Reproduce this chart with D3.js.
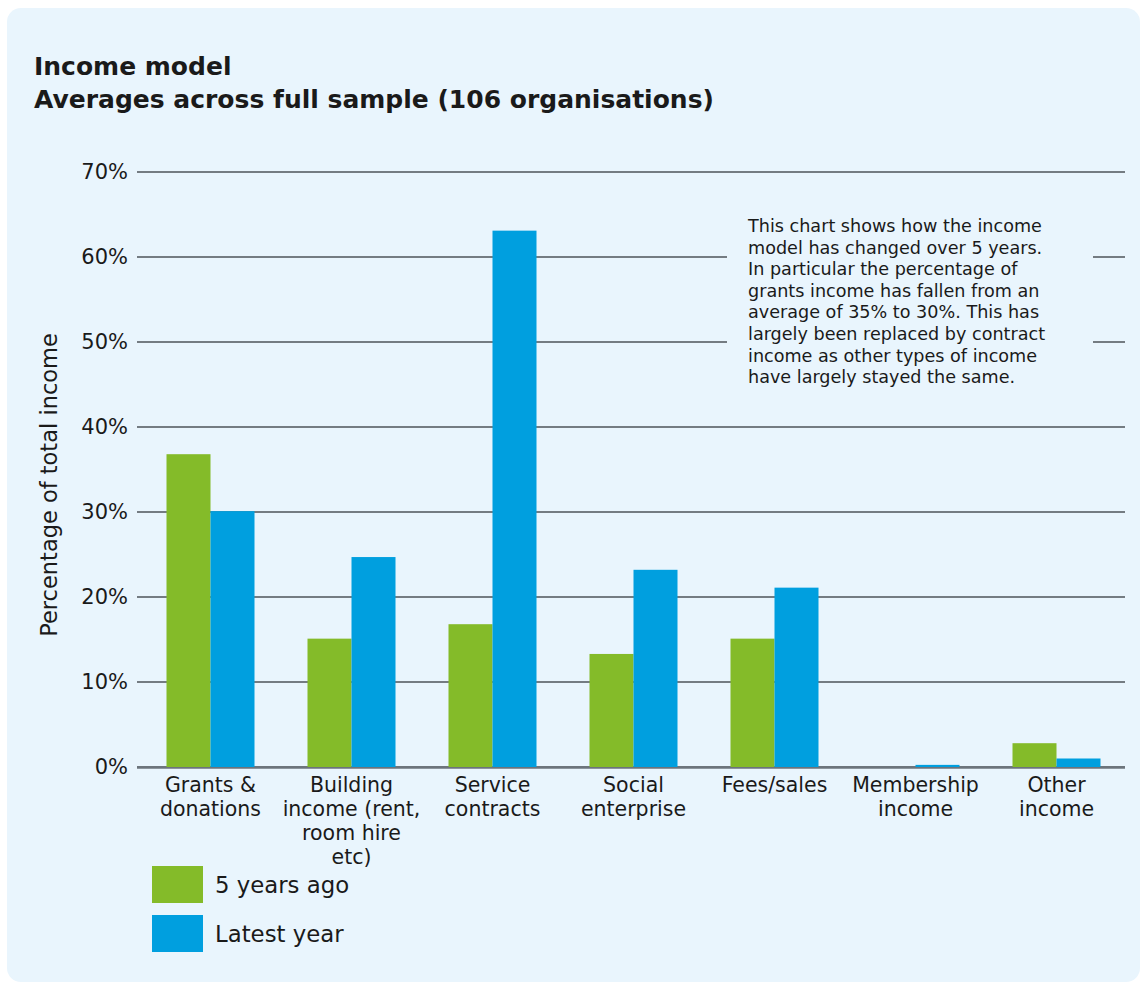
<!DOCTYPE html>
<html><head><meta charset="utf-8">
<script src="https://cdn.jsdelivr.net/npm/d3@7"></script>
<style>
html,body{margin:0;padding:0;background:#fff;}
svg{display:block;}
text{font-family:"DejaVu Sans",sans-serif;fill:#1a1a1a;}
</style></head>
<body>
<svg id="chart" width="1147" height="983"></svg>
<script>
const categories = [
  ["Grants &","donations"],
  ["Building","income (rent,","room hire","etc)"],
  ["Service","contracts"],
  ["Social","enterprise"],
  ["Fees/sales"],
  ["Membership","income"],
  ["Other","income"]
];
const seriesNames = ["5 years ago","Latest year"];
const fiveYearsAgo = [36.8, 15.1, 16.8, 13.3, 15.1, 0, 2.8];
const latestYear   = [30.1, 24.7, 63.1, 23.2, 21.1, 0.25, 1.0];
const yTicks = [0,10,20,30,40,50,60,70];
const colors = ["#84bb29","#009fdf"];
const titleLines = ["Income model","Averages across full sample (106 organisations)"];
const noteLines = [
  "This chart shows how the income",
  "model has changed over 5 years.",
  "In particular the percentage of",
  "grants income has fallen from an",
  "average of 35% to 30%. This has",
  "largely been replaced by contract",
  "income as other types of income",
  "have largely stayed the same."
];

const svg = d3.select("#chart");
svg.append("rect").attr("x",7).attr("y",8).attr("width",1133).attr("height",974)
  .attr("rx",14).attr("fill","#e9f5fd");

const x0 = d3.scaleBand().domain(d3.range(categories.length)).range([140,1127]);
const x1 = d3.scaleBand().domain([0,1]).range([0,88]);
const y = d3.scaleLinear().domain([0,70]).range([767,172]);

// title
svg.append("g").selectAll("text").data(titleLines).join("text")
  .attr("x",34).attr("y",(d,i)=>75+i*33)
  .attr("font-size",25).attr("font-weight",700).text(d=>d);

// gridlines
svg.append("g").selectAll("line").data(yTicks).join("line")
  .attr("x1",137).attr("x2",1125).attr("y1",d=>y(d)).attr("y2",d=>y(d))
  .attr("stroke",d=>d===0?"#6d757c":"#4d5358").attr("stroke-width",d=>d===0?2:1.3);

// y tick labels
svg.append("g").selectAll("text").data(yTicks).join("text")
  .attr("x",128).attr("y",d=>y(d)).attr("dy","0.35em").attr("text-anchor","end")
  .attr("font-size",21).text(d=>d+"%");

// y axis title
svg.append("text").attr("transform","translate(57,485) rotate(-90)")
  .attr("text-anchor","middle").attr("font-size",22.5).text("Percentage of total income");

// note box (covers gridlines)
svg.append("rect").attr("x",727).attr("y",205).attr("width",366).attr("height",190).attr("fill","#e9f5fd");
svg.append("g").selectAll("text").data(noteLines).join("text")
  .attr("x",748).attr("y",(d,i)=>232+i*21.6).attr("font-size",17.6).text(d=>d);

// bars
const data = categories.map((c,i)=>({i, vals:[fiveYearsAgo[i], latestYear[i]]}));
const groups = svg.append("g").selectAll("g").data(data).join("g")
  .attr("transform",d=>`translate(${x0(d.i)+x0.bandwidth()/2-44},0)`);
groups.selectAll("rect").data(d=>d.vals.map((v,s)=>({v,s}))).join("rect")
  .attr("x",d=>x1(d.s)).attr("width",x1.bandwidth())
  .attr("y",d=>y(d.v)).attr("height",d=>y(0)-y(d.v))
  .attr("fill",d=>colors[d.s]);

// redraw baseline over bars
svg.append("line").attr("x1",137).attr("x2",1125).attr("y1",y(0)+1).attr("y2",y(0)+1)
  .attr("stroke","#6d757c").attr("stroke-width",1.5);

// category labels
const cl = svg.append("g").selectAll("text").data(categories).join("text")
  .attr("text-anchor","middle").attr("font-size",20.5)
  .attr("transform",(d,i)=>`translate(${x0(i)+x0.bandwidth()/2},792)`);
cl.selectAll("tspan").data(d=>d).join("tspan")
  .attr("x",0).attr("y",(d,i)=>i*24).text(d=>d);

// legend
const lg = svg.append("g").selectAll("g").data(seriesNames).join("g")
  .attr("transform",(d,i)=>`translate(152,${866+i*49})`);
lg.append("rect").attr("width",51).attr("height",37).attr("fill",(d,i)=>colors[i]);
lg.append("text").attr("x",63).attr("y",19).attr("dy","0.35em").attr("font-size",22.8).text(d=>d);
</script>
</body></html>
